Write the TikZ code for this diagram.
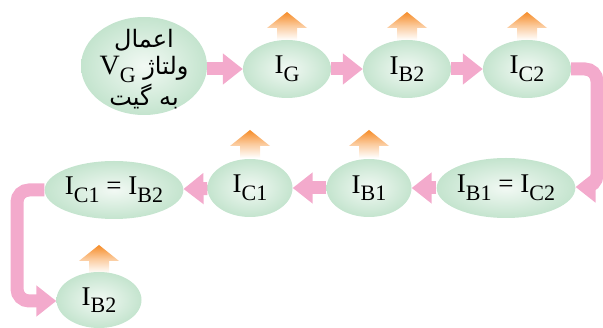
\documentclass[tikz,border=0pt]{standalone}
\usepackage{fontspec}
\setmainfont{Liberation Serif}
\newfontfamily\arabicfont[Script=Arabic]{DejaVu Sans}
\TeXXeTstate=1
\usetikzlibrary{arrows.meta,shapes.geometric}
\definecolor{pinkc}{RGB}{243,170,204}
\definecolor{ellout}{RGB}{196,228,206}
\definecolor{ellin}{RGB}{242,249,244}
\definecolor{orangec}{RGB}{246,140,40}
\tikzset{
  ell/.style={ellipse, inner sep=0pt, minimum width=#1, minimum height=58pt,
    inner color=ellin, outer color=ellout, font=\fontsize{27}{30}\selectfont},
  ell/.default=88pt,
  flow/.style={draw=pinkc, line width=13pt, -{Triangle[width=30pt,length=20pt]}},
  loopflow/.style={flow, rounded corners=12pt},
}
\newcommand{\cur}[2][I]{#1\raisebox{-0.28em}{\fontsize{22}{24}\selectfont #2}}
\newcommand{\uparr}[2]{%
  \shade[top color=orangec, bottom color=white, middle color=orangec!45]
    (#1-10,#2) -- (#1-10,#2-12) -- (#1-20,#2-12) -- (#1,#2-28) -- (#1+20,#2-12)
    -- (#1+10,#2-12) -- (#1+10,#2) -- cycle;}
\begin{document}
\begin{tikzpicture}[x=1pt,y=-1pt]
\useasboundingbox (0,0) rectangle (603,328);
% up arrows
\uparr{287}{40}
\uparr{407}{40}
\uparr{527}{40}
\uparr{250}{158}
\uparr{369}{158}
\uparr{99}{273}
% nodes
\node[ell=126pt, minimum height=98pt] (apply) at (144,66) {};
\node[font=\fontsize{24}{27}\selectfont, align=center, inner sep=0pt] (applytxt) at (144,69)
  {\arabicfont\beginR اعمال\endR\\
   \arabicfont\beginR ولتاژ \beginL{\fontsize{28}{28}\selectfont\rmfamily\cur[V]{G}}\endL\endR\\
   \arabicfont\beginR به گیت\endR};
\node[ell] (ig) at (287,69) {\cur{G}};
\node[ell] (ib2) at (407,69) {\cur{B2}};
\node[ell] (ic2) at (527,69) {\cur{C2}};
\node[ell=123pt, minimum height=60pt] (ib1ic2) at (506,188) {\cur{B1} = \cur{C2}};
\node[ell=85pt] (ib1) at (369,188) {\cur{B1}};
\node[ell=85pt] (ic1) at (250,188) {\cur{C1}};
\node[ell=118pt, minimum height=58pt] (ic1ib2) at (114,190) {\cur{C1} = \cur{B2}};
\node[ell=85pt, minimum height=56pt] (ib2b) at (99,300) {\cur{B2}};
% connectors
\draw[flow] (apply.east |- 0,69) -- (ig.west);
\draw[flow] (ig) -- (ib2);
\draw[flow] (ib2) -- (ic2);
\coordinate (r1) at (597,69);
\coordinate (r2) at (597,187);
\draw[loopflow] (ic2.east) -- (r1) -- (r2) -- (ib1ic2.east |- r2);
\draw[flow] (ib1ic2) -- (ib1);
\draw[flow] (ib1) -- (ic1);
\draw[flow] (ic1) -- (ic1ib2);
\coordinate (l1) at (17,190);
\coordinate (l2) at (17,301);
\draw[loopflow] (ic1ib2.west) -- (l1) -- (l2) -- (ib2b.west |- l2);
\end{tikzpicture}
\end{document}
